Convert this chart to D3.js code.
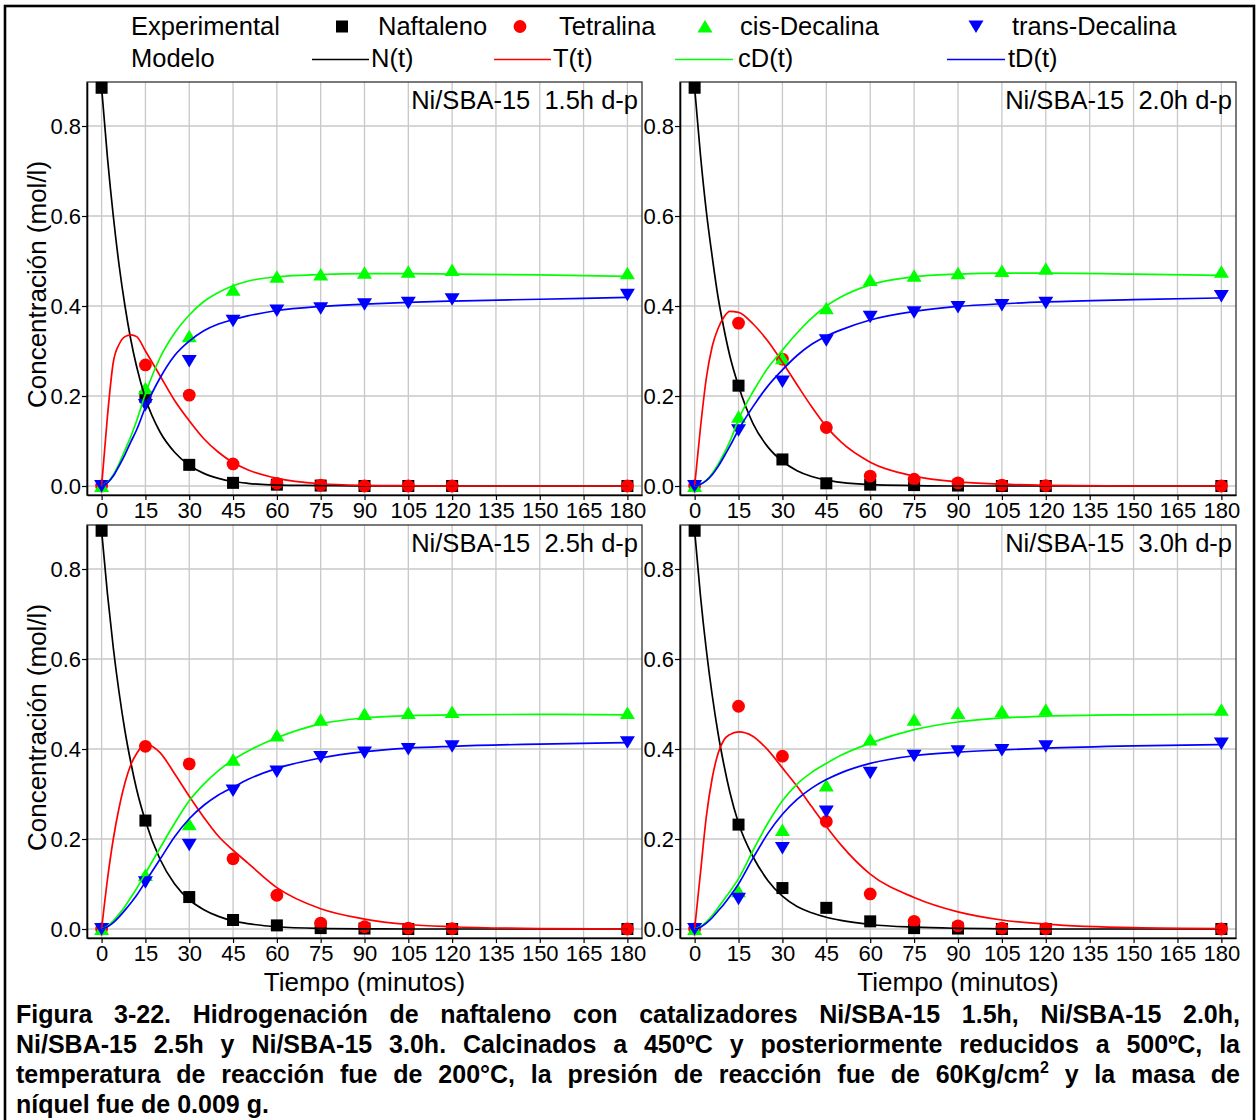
<!DOCTYPE html>
<html>
<head>
<meta charset="utf-8">
<script src="https://cdn.jsdelivr.net/npm/d3@7"></script>
<style>
  html, body { margin: 0; padding: 0; background: #fff; }
  svg text { font-family: "Liberation Sans", Arial, sans-serif; fill: #000; }
</style>
</head>
<body>
<svg id="fig" width="1257" height="1120"></svg>
<script>
// ---------- data ----------
const tExp   = [0, 15, 30, 45, 60, 75, 90, 105, 120, 180];
const tModel = [0, 2, 4, 6, 8, 10, 12, 15, 20, 25, 30, 35, 40, 45, 50, 60, 75, 90, 105, 120, 150, 180];
const xTicks = [0, 15, 30, 45, 60, 75, 90, 105, 120, 135, 150, 165, 180];
const yTicks = [0.0, 0.2, 0.4, 0.6, 0.8];

const seriesNames = ["Naftaleno", "Tetralina", "cis-Decalina", "trans-Decalina"];
const modelNames  = ["N(t)", "T(t)", "cD(t)", "tD(t)"];
const panelTitles = ["Ni/SBA-15  1.5h d-p", "Ni/SBA-15  2.0h d-p", "Ni/SBA-15  2.5h d-p", "Ni/SBA-15  3.0h d-p"];

// Ni/SBA-15 1.5h — experimental (mol/l)
const naft_15  = [0.885, 0.198, 0.047, 0.007, 0.003, 0.001, 0, 0, 0, 0];
const tetr_15  = [0, 0.269, 0.202, 0.049, 0.006, 0.002, 0, 0, 0, 0];
const cis_15   = [0, 0.217, 0.333, 0.436, 0.465, 0.470, 0.474, 0.476, 0.480, 0.473];
const trans_15 = [0, 0.180, 0.278, 0.367, 0.390, 0.395, 0.404, 0.407, 0.415, 0.425];
// Ni/SBA-15 1.5h — model
const N_15  = [0.885, 0.73, 0.60, 0.49, 0.40, 0.325, 0.265, 0.195, 0.12, 0.075, 0.046, 0.028, 0.017, 0.010, 0.006, 0.002, 0.001, 0, 0, 0, 0, 0];
const T_15  = [0, 0.155, 0.275, 0.315, 0.332, 0.336, 0.332, 0.30, 0.245, 0.19, 0.145, 0.105, 0.075, 0.052, 0.036, 0.017, 0.005, 0.0015, 0.0005, 0, 0, 0];
const cD_15 = [0, 0.008, 0.025, 0.05, 0.08, 0.11, 0.145, 0.205, 0.285, 0.34, 0.38, 0.41, 0.43, 0.445, 0.455, 0.465, 0.47, 0.472, 0.472, 0.471, 0.469, 0.466];
const tD_15 = [0, 0.007, 0.022, 0.045, 0.07, 0.098, 0.125, 0.175, 0.24, 0.29, 0.322, 0.345, 0.36, 0.37, 0.378, 0.39, 0.399, 0.404, 0.408, 0.411, 0.415, 0.419];

// Ni/SBA-15 2.0h — experimental
const naft_20  = [0.885, 0.223, 0.059, 0.006, 0.003, 0.002, 0.001, 0, 0, 0];
const tetr_20  = [0, 0.362, 0.282, 0.130, 0.022, 0.015, 0.007, 0.002, 0.001, 0];
const cis_20   = [0, 0.154, 0.284, 0.395, 0.458, 0.467, 0.473, 0.478, 0.483, 0.476];
const trans_20 = [0, 0.124, 0.232, 0.324, 0.376, 0.386, 0.398, 0.402, 0.407, 0.422];
// Ni/SBA-15 2.0h — model
const N_20  = [0.885, 0.735, 0.61, 0.51, 0.42, 0.35, 0.29, 0.222, 0.138, 0.087, 0.055, 0.034, 0.021, 0.013, 0.008, 0.003, 0.001, 0, 0, 0, 0, 0];
const T_20  = [0, 0.13, 0.24, 0.31, 0.35, 0.375, 0.388, 0.386, 0.36, 0.322, 0.275, 0.225, 0.176, 0.132, 0.098, 0.053, 0.022, 0.009, 0.004, 0.0015, 0, 0];
const cD_20 = [0, 0.004, 0.013, 0.028, 0.048, 0.072, 0.098, 0.148, 0.21, 0.262, 0.302, 0.34, 0.373, 0.40, 0.42, 0.447, 0.465, 0.471, 0.473, 0.473, 0.471, 0.468];
const tD_20 = [0, 0.004, 0.012, 0.025, 0.043, 0.065, 0.088, 0.125, 0.177, 0.222, 0.258, 0.29, 0.315, 0.333, 0.347, 0.369, 0.388, 0.399, 0.405, 0.409, 0.414, 0.418];

// Ni/SBA-15 2.5h — experimental
const naft_25  = [0.885, 0.241, 0.071, 0.020, 0.008, 0.002, 0.001, 0, 0, 0];
const tetr_25  = [0, 0.406, 0.367, 0.156, 0.075, 0.013, 0.005, 0.002, 0.001, 0];
const cis_25   = [0, 0.120, 0.233, 0.376, 0.430, 0.465, 0.478, 0.480, 0.482, 0.480];
const trans_25 = [0, 0.104, 0.187, 0.308, 0.350, 0.382, 0.392, 0.400, 0.406, 0.415];
// Ni/SBA-15 2.5h — model
const N_25  = [0.885, 0.745, 0.625, 0.525, 0.44, 0.37, 0.31, 0.24, 0.155, 0.10, 0.065, 0.043, 0.028, 0.018, 0.012, 0.005, 0.0013, 0.0003, 0, 0, 0, 0];
const T_25  = [0, 0.11, 0.2, 0.27, 0.325, 0.365, 0.39, 0.411, 0.392, 0.345, 0.295, 0.248, 0.206, 0.175, 0.147, 0.092, 0.045, 0.022, 0.01, 0.005, 0.001, 0];
const cD_25 = [0, 0.006, 0.018, 0.033, 0.05, 0.07, 0.09, 0.124, 0.18, 0.235, 0.285, 0.322, 0.352, 0.376, 0.395, 0.425, 0.456, 0.469, 0.474, 0.476, 0.477, 0.476];
const tD_25 = [0, 0.005, 0.014, 0.027, 0.042, 0.058, 0.075, 0.105, 0.155, 0.205, 0.245, 0.275, 0.298, 0.315, 0.332, 0.357, 0.38, 0.394, 0.402, 0.406, 0.411, 0.414];

// Ni/SBA-15 3.0h — experimental
const naft_30  = [0.885, 0.232, 0.091, 0.047, 0.017, 0.002, 0.001, 0, 0, 0];
const tetr_30  = [0, 0.495, 0.384, 0.239, 0.078, 0.017, 0.007, 0.002, 0.001, 0];
const cis_30   = [0, 0.084, 0.220, 0.319, 0.421, 0.465, 0.480, 0.484, 0.487, 0.487];
const trans_30 = [0, 0.067, 0.180, 0.261, 0.347, 0.385, 0.395, 0.398, 0.406, 0.412];
// Ni/SBA-15 3.0h — model
const N_30  = [0.885, 0.74, 0.62, 0.52, 0.435, 0.365, 0.305, 0.235, 0.16, 0.108, 0.073, 0.05, 0.036, 0.026, 0.019, 0.01, 0.004, 0.0015, 0.0005, 0, 0, 0];
const T_30  = [0, 0.125, 0.25, 0.335, 0.39, 0.42, 0.432, 0.438, 0.428, 0.398, 0.358, 0.317, 0.272, 0.228, 0.187, 0.122, 0.07, 0.038, 0.02, 0.011, 0.003, 0.001];
const cD_30 = [0, 0.005, 0.016, 0.03, 0.047, 0.065, 0.083, 0.112, 0.175, 0.235, 0.285, 0.322, 0.348, 0.368, 0.386, 0.413, 0.443, 0.46, 0.469, 0.473, 0.476, 0.477];
const tD_30 = [0, 0.004, 0.013, 0.025, 0.04, 0.055, 0.072, 0.10, 0.158, 0.212, 0.255, 0.288, 0.313, 0.332, 0.347, 0.368, 0.385, 0.393, 0.398, 0.402, 0.407, 0.41];

const captionLines = [
  "Figura 3-22. Hidrogenación de naftaleno con catalizadores Ni/SBA-15 1.5h, Ni/SBA-15 2.0h,",
  "Ni/SBA-15 2.5h y Ni/SBA-15 3.0h. Calcinados a 450ºC y posteriormente reducidos a 500ºC, la",
  "temperatura de reacción fue de 200°C, la presión de reacción fue de 60Kg/cm² y la masa de",
  "níquel fue de 0.009 g."
];

// ---------- styles & layout ----------
const colors  = ["#000000", "#ff0000", "#00ff00", "#0000ff"];
const symbols = ["square", "circle", "triUp", "triDown"];
const colsX = [[87, 642], [680, 1236]];
const rowsY = [[82, 495], [525, 938]];

const panels = [
  { title: panelTitles[0], col: 0, row: 0, exp: [naft_15, tetr_15, cis_15, trans_15], mod: [N_15, T_15, cD_15, tD_15] },
  { title: panelTitles[1], col: 1, row: 0, exp: [naft_20, tetr_20, cis_20, trans_20], mod: [N_20, T_20, cD_20, tD_20] },
  { title: panelTitles[2], col: 0, row: 1, exp: [naft_25, tetr_25, cis_25, trans_25], mod: [N_25, T_25, cD_25, tD_25] },
  { title: panelTitles[3], col: 1, row: 1, exp: [naft_30, tetr_30, cis_30, trans_30], mod: [N_30, T_30, cD_30, tD_30] }
];

const svg = d3.select("#fig");

function drawMarker(g, kind, cx, cy, color) {
  if (kind === "square") {
    g.append("rect").attr("x", cx - 6).attr("y", cy - 6).attr("width", 12).attr("height", 12).attr("fill", color);
  } else if (kind === "circle") {
    g.append("circle").attr("cx", cx).attr("cy", cy).attr("r", 6.4).attr("fill", color);
  } else if (kind === "triUp") {
    g.append("path").attr("d", `M${cx},${cy - 6.5}L${cx + 7.5},${cy + 6}L${cx - 7.5},${cy + 6}Z`).attr("fill", color);
  } else {
    g.append("path").attr("d", `M${cx},${cy + 6.5}L${cx + 7.5},${cy - 6}L${cx - 7.5},${cy - 6}Z`).attr("fill", color);
  }
}

// outer frame of the figure
svg.append("rect").attr("x", 5).attr("y", 6).attr("width", 1249).attr("height", 1130)
  .attr("fill", "none").attr("stroke", "#000").attr("stroke-width", 2.6);

// ---------- panels ----------
panels.forEach(p => {
  const [x0, x1] = colsX[p.col];
  const [y0, y1] = rowsY[p.row];
  const x = d3.scaleLinear().domain([-5, 185]).range([x0, x1]);
  const y = d3.scaleLinear().domain([-0.02, 0.8978]).range([y1, y0]);
  const g = svg.append("g");

  // grid
  g.append("g").selectAll("line").data(xTicks).join("line")
    .attr("x1", d => x(d)).attr("x2", d => x(d)).attr("y1", y0).attr("y2", y1)
    .attr("stroke", "#c8c8c8").attr("stroke-width", 1.3);
  g.append("g").selectAll("line").data(yTicks).join("line")
    .attr("x1", x0).attr("x2", x1).attr("y1", d => y(d)).attr("y2", d => y(d))
    .attr("stroke", "#c8c8c8").attr("stroke-width", 1.3);

  // plot frame
  g.append("rect").attr("x", x0).attr("y", y0).attr("width", x1 - x0).attr("height", y1 - y0)
    .attr("fill", "none").attr("stroke", "#333").attr("stroke-width", 1.3);

  // axes
  const ax = g.append("g").attr("transform", `translate(0,${y1})`)
    .call(d3.axisBottom(x).tickValues(xTicks).tickSize(5).tickSizeOuter(0).tickPadding(2));
  const ay = g.append("g").attr("transform", `translate(${x0},0)`)
    .call(d3.axisLeft(y).tickValues(yTicks).tickFormat(d3.format(".1f")).tickSize(5).tickSizeOuter(0).tickPadding(1));
  [ax, ay].forEach(a => {
    a.select(".domain").attr("stroke", "#000").attr("stroke-width", 1.6);
    a.selectAll(".tick line").attr("stroke", "#000").attr("stroke-width", 1.2);
    a.selectAll(".tick text").attr("font-size", 22).attr("font-family", "Liberation Sans, Arial, sans-serif").attr("fill", "#000");
  });

  // experimental points
  const mg = g.append("g");
  p.exp.forEach((vals, s) => {
    vals.forEach((v, i) => drawMarker(mg, symbols[s], x(tExp[i]), y(v), colors[s]));
  });

  // model curves
  const line = d3.line().x(d => x(d[0])).y(d => y(d[1])).curve(d3.curveMonotoneX);
  p.mod.forEach((vals, s) => {
    g.append("path").datum(tModel.map((t, i) => [t, vals[i]]))
      .attr("d", line).attr("fill", "none").attr("stroke", colors[s]).attr("stroke-width", 1.7);
  });

  // panel title
  g.append("text").attr("x", x1 - 4).attr("y", y0 + 27).attr("text-anchor", "end")
    .attr("font-size", 25.5).style("white-space", "pre").text(p.title);

  // axis titles
  if (p.col === 0) {
    g.append("text").attr("transform", `translate(46,${(y0 + y1) / 2 - 4}) rotate(-90)`)
      .attr("text-anchor", "middle").attr("font-size", 26).text("Concentración (mol/l)");
  }
  if (p.row === 1) {
    g.append("text").attr("x", x(90)).attr("y", 991).attr("text-anchor", "middle")
      .attr("font-size", 26).text("Tiempo (minutos)");
  }
});

// ---------- legend ----------
const lg = svg.append("g").attr("font-size", 25.5);
lg.append("text").attr("x", 131).attr("y", 35).text("Experimental");
lg.append("text").attr("x", 131).attr("y", 67).text("Modelo");
const legMarkX  = [342, 520, 705, 976];
const legTextX1 = [378, 559, 740, 1012];
const legLineX  = [[312, 369], [494, 551], [675, 733], [947, 1005]];
const legTextX2 = [371, 553, 738, 1008];
seriesNames.forEach((name, s) => {
  drawMarker(lg, symbols[s], legMarkX[s], 26.5, colors[s]);
  lg.append("text").attr("x", legTextX1[s]).attr("y", 35).text(name);
  lg.append("line").attr("x1", legLineX[s][0]).attr("x2", legLineX[s][1]).attr("y1", 59.5).attr("y2", 59.5)
    .attr("stroke", colors[s]).attr("stroke-width", 1.7);
  lg.append("text").attr("x", legTextX2[s]).attr("y", 67).text(modelNames[s]);
});

// ---------- caption (justified, bold) ----------
const cap = svg.append("g").attr("font-size", 25).attr("font-weight", "bold");
const capLeft = 16, capRight = 1240, capBase = [1023, 1053, 1083, 1113];

function addWord(parent, word, xPos, yPos) {
  const t = parent.append("text").attr("x", xPos).attr("y", yPos);
  if (word.includes("²")) {
    const parts = word.split("²");
    t.append("tspan").text(parts[0]);
    t.append("tspan").attr("font-size", 16).attr("dy", -10).text("2");
    if (parts[1]) t.append("tspan").attr("dy", 10).text(parts[1]);
  } else {
    t.text(word);
  }
  return t;
}
const probe1 = cap.append("text").text("n n"), probe2 = cap.append("text").text("nn");
const spaceW = probe1.node().getComputedTextLength() - probe2.node().getComputedTextLength();
probe1.remove(); probe2.remove();

captionLines.forEach((lineText, li) => {
  const words = lineText.split(" ");
  const nodes = words.map(w => addWord(cap, w, 0, capBase[li]));
  const widths = nodes.map(n => n.node().getComputedTextLength());
  const total = d3.sum(widths);
  const justify = li < captionLines.length - 1;
  const gap = justify ? (capRight - capLeft - total) / (words.length - 1) : spaceW;
  let cx = capLeft;
  nodes.forEach((n, i) => {
    n.attr("x", cx);
    cx += widths[i] + gap;
  });
});
</script>
</body>
</html>
